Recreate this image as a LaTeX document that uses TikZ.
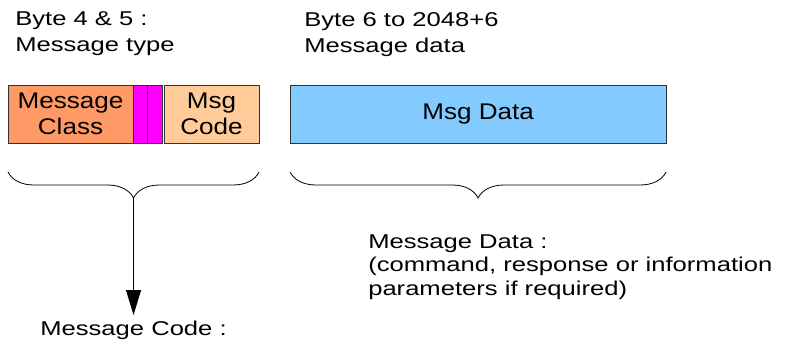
\documentclass[tikz,border=0pt]{standalone}
\usepackage{fontspec}
\setmainfont{Liberation Sans}[FakeStretch=1.28]
\newfontfamily\boxfont{Liberation Sans}[FakeStretch=1.15]
\usepackage{tikz}
\usetikzlibrary{arrows.meta,positioning,calc,decorations.pathreplacing}
\definecolor{clsorange}{RGB}{255,153,102}
\definecolor{codeorange}{RGB}{255,204,153}
\definecolor{datablue}{RGB}{131,202,255}
\definecolor{bitmagenta}{RGB}{255,0,255}
\definecolor{edgegray}{RGB}{51,51,51}

\begin{document}
\begin{tikzpicture}[
    x=0.75pt, y=-0.75pt,
    node distance=0pt,
    >={Triangle[length=18.75pt,width=11.25pt]},
    field/.style={
		rectangle,
		draw=edgegray,
		line width=0.6pt,
		align=center,
		minimum height=43.5pt,
		inner sep=0pt,
		outer sep=0pt,
		font=\boxfont\fontsize{17}{19.5}\selectfont
	},
	strip/.style={
		field,
		fill=bitmagenta,
		minimum width=10.9pt
	},
	note/.style={
		align=left,
		inner sep=0pt,
		font=\fontsize{15}{19.5}\selectfont
	},
	bracket/.style={
		decorate,
		decoration={brace,mirror,amplitude=19.5pt},
		line width=0.6pt
	}
  ]
  \useasboundingbox[fill=white] (0,0) rectangle (788,345);

  % header texts
  \node [note, anchor=north west] (typetxt) at (15,11.6) {Byte 4 \& 5 :\\Message type};
  \node [note, anchor=north west] (datatxt) at (304,12) {Byte 6 to 2048+6\\Message data};

  % the fields
  \node [field, fill=clsorange, minimum width=93.75pt] (cls) at (70.5,114) {Message\\Class};
  \node [strip, right=of cls] (bit1) {};
  \node [strip, right=of bit1] (bit2) {};
  \node [field, fill=codeorange, minimum width=71.25pt, right=1.5pt of bit2] (code) {Msg\\Code};
  \node [field, fill=datablue, minimum width=282pt, right=23.25pt of code] (data) {Msg Data};

  % braces under the fields
  \coordinate (lbeg) at ([yshift=-21.75pt]cls.south west);
  \coordinate (lend) at ([yshift=-21.75pt]code.south east);
  \coordinate (rbeg) at ([yshift=-21.75pt]data.south west);
  \coordinate (rend) at ([yshift=-21.75pt]data.south east);
  \draw [bracket] (lbeg) -- (lend);
  \draw [bracket] (rbeg) -- (rend);
  \coordinate (ltip) at ($(lbeg)!0.5!(lend)+(0,26)$);

  \node [note, inner ysep=4.5pt, below=87.75pt of ltip] (msgcode) {Message Code :};
  \node [note, anchor=north west, font=\fontsize{15}{17.6}\selectfont] (datanote) at (368,234.5)
 {Message Data :\\(command, response or information\\parameters if required)};

  \draw [->, line width=0.75pt] (ltip) -- (msgcode);
\end{tikzpicture}
\end{document}
